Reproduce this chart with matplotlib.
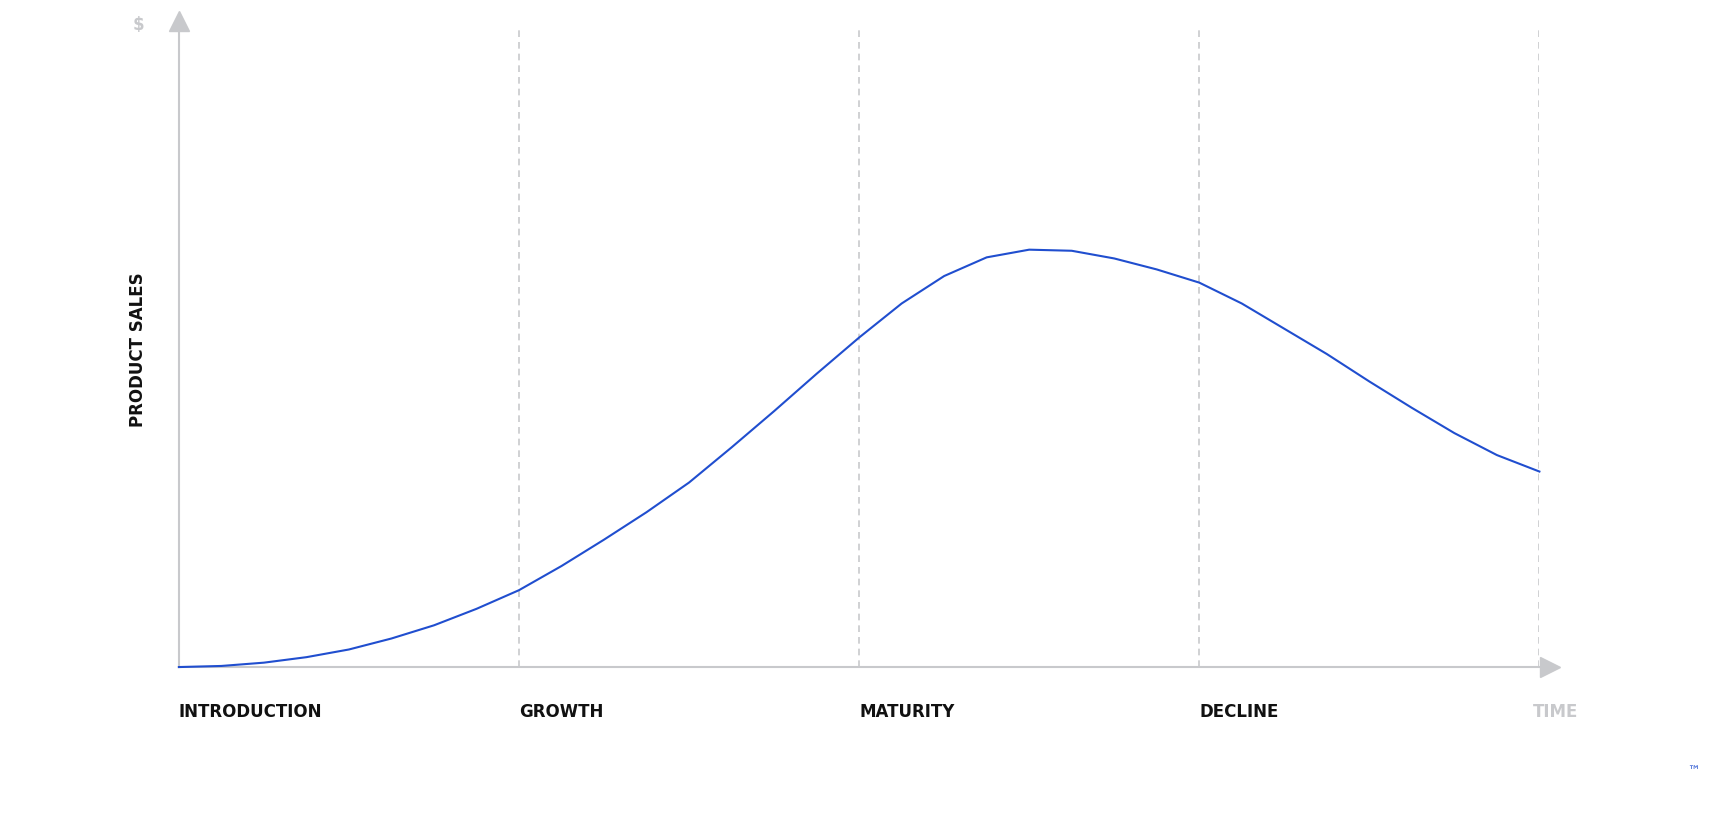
import matplotlib
matplotlib.use('Agg')
import matplotlib.pyplot as plt

plt.rcParams['font.family'] = ['DejaVu Sans']

# product sales over time (stage units)
time = [0, 0.125, 0.25, 0.375, 0.5, 0.625, 0.75, 0.875, 1.0, 1.125, 1.25, 1.375, 1.5,
        1.625, 1.75, 1.875, 2.0, 2.125, 2.25, 2.375, 2.5, 2.625, 2.75, 2.875, 3.0,
        3.125, 3.25, 3.375, 3.5, 3.625, 3.75, 3.875, 4.0]
sales = [0, 1, 4, 9, 16, 26, 38, 53, 70, 92, 116, 141, 168,
         200, 233, 267, 300, 331, 356, 373, 380, 379, 372, 362, 350,
         331, 308, 285, 260, 236, 213, 193, 178]
stages = ['INTRODUCTION', 'GROWTH', 'MATURITY', 'DECLINE']
stage_pos = [0, 1, 2, 3]
dividers = [1, 2, 3, 4]

gray = '#c8c9cc'
fig = plt.figure(figsize=(17.2, 8.2), dpi=100)
ax = fig.add_axes([0.104, 0.1853, 0.791, 0.8037])
ax.set_xlim(0, 4)
ax.set_ylim(0, 600)
ax.axis('off')

for d in dividers:
    ax.plot([d, d], [0, 583], color=gray, lw=1.2, ls=(0, (4, 3)))
ax.plot([0, 4], [0, 0], color=gray, lw=1.5, clip_on=False)
ax.plot([0, 0], [0, 585], color=gray, lw=1.5, clip_on=False)
# arrow heads
ax.plot(4.03, 0, marker='>', ms=15, color=gray, clip_on=False)
ax.plot(0, 588, marker='^', ms=15, color=gray, clip_on=False)

ax.plot(time, sales, color='#204ecf', lw=1.5, clip_on=False)

for s, p in zip(stages, stage_pos):
    ax.text(p, -40, s, fontsize=12, fontweight='bold', color='#111111', ha='left', va='center')
ax.text(3.98, -40, 'TIME', fontsize=12, fontweight='bold', color=gray, ha='left', va='center')
ax.text(-0.12, 585, '$', fontsize=12, fontweight='bold', color=gray, ha='center', va='center')
ax.text(-0.12, 290, 'PRODUCT SALES', fontsize=12, fontweight='bold', color='#111111',
        rotation=90, ha='center', va='center')
fig.text(0.988, 0.055, '™', fontsize=9, color='#204ecf', ha='right')

fig.savefig('out.png', dpi=100)
